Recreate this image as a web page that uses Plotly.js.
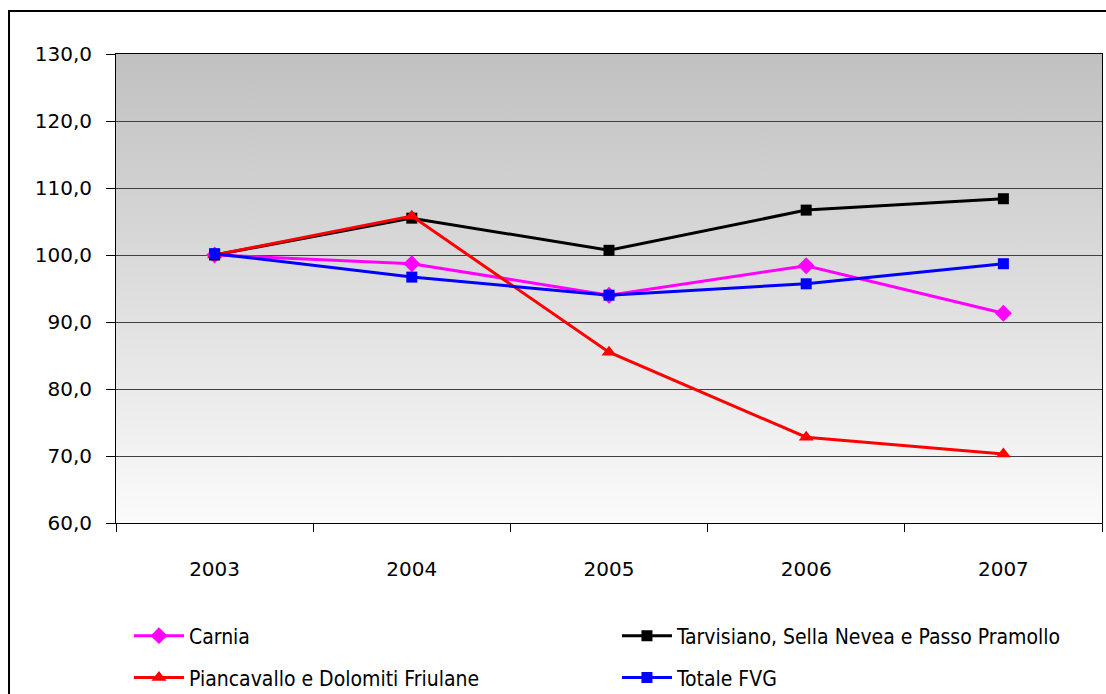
<!DOCTYPE html>
<html>
<head>
<meta charset="utf-8">
<script src="https://cdn.plot.ly/plotly-3.0.1.min.js"></script>
<style>
  html, body { margin: 0; padding: 0; background: #ffffff; }
  #chart { width: 1106px; height: 694px; }
</style>
</head>
<body>
<div id="chart"></div>
<script>
// ---- data ----
const years = ["2003", "2004", "2005", "2006", "2007"];
const carnia = [100.0, 98.7, 94.0, 98.4, 91.3];
const tarvisiano = [100.0, 105.5, 100.7, 106.7, 108.4];
const piancavallo = [100.0, 105.8, 85.5, 72.8, 70.3];
const totaleFVG = [100.2, 96.7, 94.0, 95.7, 98.7];
const seriesNames = [
  "Carnia",
  "Tarvisiano, Sella Nevea e Passo Pramollo",
  "Piancavallo e Dolomiti Friulane",
  "Totale FVG"
];
const yTicks = [60, 70, 80, 90, 100, 110, 120, 130];

const gradSvg = '<svg xmlns="http://www.w3.org/2000/svg" width="10" height="100" preserveAspectRatio="none">' +
  '<defs><linearGradient id="g" x1="0" y1="0" x2="0" y2="1">' +
  '<stop offset="0" stop-color="#c0c0c0"/><stop offset="1" stop-color="#fbfbfb"/>' +
  '</linearGradient></defs><rect width="10" height="100" fill="url(#g)"/></svg>';
const gradUri = 'data:image/svg+xml;base64,' + btoa(gradSvg);

function mk(name, y, color, symbol, size, legendId) {
  return {
    type: 'scatter', mode: 'lines+markers', x: years, y: y, name: name,
    legend: legendId,
    line: {color: color, width: 3},
    marker: {color: color, symbol: symbol, size: size, line: {width: 0}}
  };
}

const traces = [
  mk(seriesNames[0], carnia, '#ff00ff', 'diamond', 13, 'legend'),
  mk(seriesNames[1], tarvisiano, '#000000', 'square', 11, 'legend'),
  mk(seriesNames[2], piancavallo, '#ff0000', 'triangle-up', 13, 'legend2'),
  mk(seriesNames[3], totaleFVG, '#0000ff', 'square', 11, 'legend2')
];

const legendFont = {family: 'DejaVu Sans Condensed, DejaVu Sans, sans-serif', size: 21, color: '#000000'};
function legendAt(yc) {
  return {
    orientation: 'h', xref: 'container', yref: 'container',
    x: 0.1166, y: yc, xanchor: 'left', yanchor: 'middle',
    entrywidth: 423, entrywidthmode: 'pixels',
    itemwidth: 50, tracegroupgap: 0,
    font: legendFont, bgcolor: 'rgba(0,0,0,0)'
  };
}

const tickFont = {family: 'DejaVu Sans, Verdana, sans-serif', size: 20, color: '#000000'};

const layout = {
  width: 1106, height: 694,
  margin: {l: 116, r: 4, t: 54, b: 171, pad: 0},
  paper_bgcolor: '#ffffff',
  plot_bgcolor: 'rgba(0,0,0,0)',
  separators: ',.',
  font: {family: 'DejaVu Sans, Verdana, sans-serif', size: 20, color: '#000000'},
  showlegend: true,
  legend: legendAt(0.0836),
  legend2: legendAt(0.0231),
  xaxis: {
    type: 'category', range: [-0.5, 4.5], fixedrange: true,
    showgrid: false, zeroline: false,
    showline: true, linecolor: '#000000', linewidth: 1, mirror: true,
    ticks: 'outside', tickson: 'boundaries', ticklen: 8, tickcolor: '#000000', tickwidth: 1,
    ticklabelstandoff: 28,
    tickfont: tickFont
  },
  yaxis: {
    range: [60, 130], fixedrange: true,
    tickmode: 'array', tickvals: yTicks, tickformat: '.1f',
    showgrid: true, gridcolor: '#404040', gridwidth: 1,
    zeroline: false,
    showline: true, linecolor: '#000000', linewidth: 1, mirror: true,
    ticks: 'outside', ticklen: 9, tickcolor: '#000000', tickwidth: 1,
    ticklabelstandoff: 10,
    tickfont: tickFont
  },
  images: [{
    source: gradUri, xref: 'paper', yref: 'paper', x: 0, y: 1,
    sizex: 1, sizey: 1, sizing: 'stretch', xanchor: 'left', yanchor: 'top',
    layer: 'below'
  }],
  shapes: [{
    type: 'rect', xref: 'paper', yref: 'paper',
    x0: -0.1085, x1: 1.02, y0: -0.40, y1: 1.0916,
    line: {color: '#000000', width: 2}, fillcolor: 'rgba(0,0,0,0)', layer: 'below'
  }]
};

Plotly.newPlot('chart', traces, layout, {displayModeBar: false, staticPlot: true});
</script>
</body>
</html>
